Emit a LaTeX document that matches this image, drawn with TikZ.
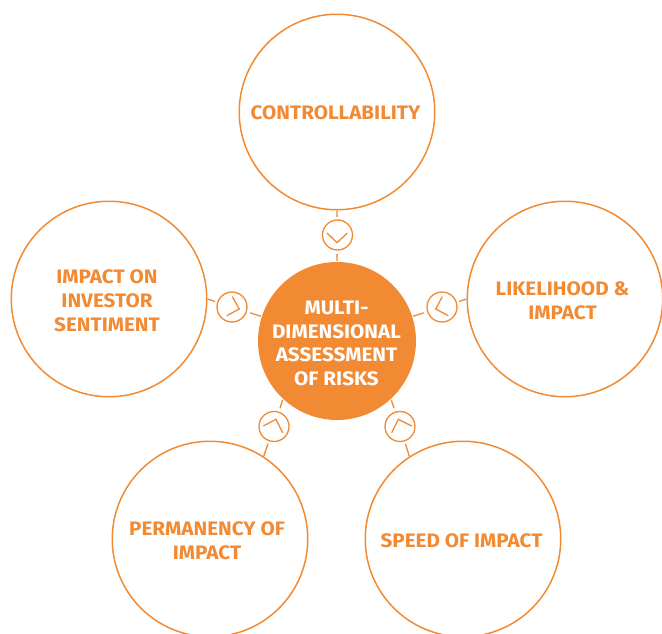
\documentclass[tikz,border=0pt]{standalone}
\usepackage{fontspec}
\setmainfont[FakeStretch=1.06]{Fira Sans}
\usetikzlibrary{calc}
\definecolor{riskorange}{HTML}{F28A33}

\begin{document}
\begin{tikzpicture}[x=1pt,y=-1pt,
    riskcircle/.style={circle,draw=riskorange,line width=1.5pt,minimum size=195.5pt,inner sep=0pt},
    risklabel/.style={align=center,inner sep=0pt,text=riskorange,font=\fontsize{19.5}{24}\selectfont\bfseries},
    corecircle/.style={circle,fill=riskorange,minimum size=158pt,inner sep=0pt},
    corelabel/.style={align=center,inner sep=0pt,text=white,font=\fontsize{19.5}{23.5}\selectfont\bfseries},
    dialcircle/.style={circle,draw=riskorange,line width=1.3pt,minimum size=30pt,inner sep=0pt},
    linkline/.style={draw=riskorange,line width=1.3pt}]
  \useasboundingbox (0,0) rectangle (662,634);

  % Centre
  \node[corecircle] (core) at (337,341) {};
  \node[corelabel] (coretext) at (336.5,343.5) {MULTI-\\DIMENSIONAL\\ASSESSMENT\\OF RISKS};

  % Outer circles
  \node[riskcircle] (control) at (337,112) {};
  \node[riskcircle] (sentiment) at (109,299) {};
  \node[riskcircle] (likelihood) at (565,299) {};
  \node[riskcircle] (permanency) at (210,539) {};
  \node[riskcircle] (speed) at (463,539) {};

  % Labels
  \node[risklabel] (controltext) at (335.5,112.5) {CONTROLLABILITY};
  \node[risklabel] (sentimenttext) at (107,300.5) {IMPACT ON\\INVESTOR\\SENTIMENT};
  \node[risklabel] (likelihoodtext) at (562.5,300.5) {LIKELIHOOD \&\\IMPACT};
  \node[risklabel] (permanencytext) at (207,540.5) {PERMANENCY OF\\IMPACT};
  \node[risklabel] (speedtext) at (461.5,540.5) {SPEED OF IMPACT};

  % Small dials
  \node[dialcircle] (dialcontrol) at (337.5,235) {};
  \node[dialcircle] (dialsentiment) at (232,307) {};
  \node[dialcircle] (diallikelihood) at (442,307) {};
  \node[dialcircle] (dialpermanency) at (274,426.5) {};
  \node[dialcircle] (dialspeed) at (400,426.5) {};

  % Connectors
  \draw[linkline,shorten >=2.5pt] (control.south) -- (dialcontrol);
  \draw[linkline,shorten >=2.5pt] (sentiment.east) -- (dialsentiment);
  \draw[linkline,shorten >=2.5pt] (likelihood.west) -- (diallikelihood);
  \draw[linkline,shorten >=2.5pt] (permanency.57) -- (dialpermanency);
  \draw[linkline,shorten >=2.5pt] (speed.123) -- (dialspeed);
  \foreach \d/\a in {dialcontrol/90,dialsentiment/162,diallikelihood/18,dialpermanency/227,dialspeed/313} {
    \draw[linkline,shorten <=3.5pt,shorten >=1pt] (\d) -- (core.\a);
  }

  % Chevrons
  \foreach \d/\ax/\ay/\tx/\ty/\bx/\by in {
    dialcontrol/-10.5/-2/-0.5/7.7/10/-2,
    dialsentiment/0.3/-10.3/7.3/2/-5.3/8.7,
    diallikelihood/0.3/-10.3/-6.3/2/6.3/8.7,
    dialpermanency/-10.7/-0.5/2/-7.2/8.7/6.2,
    dialspeed/11.7/-0.5/-1.7/-7.2/-8.3/6.2} {
    \draw[linkline] ($(\d)+(\ax,\ay)$) -- ($(\d)+(\tx,\ty)$) -- ($(\d)+(\bx,\by)$);
  }
\end{tikzpicture}
\end{document}
